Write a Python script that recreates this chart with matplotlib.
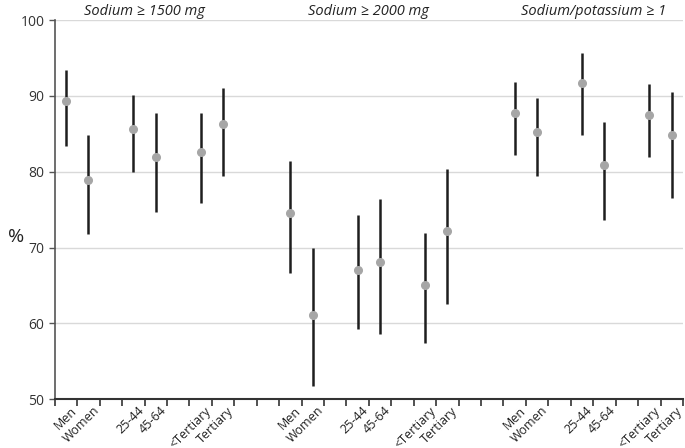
import matplotlib.pyplot as plt
import matplotlib.transforms as mtransforms
import numpy as np

plt.rcParams['font.family'] = ['Open Sans', 'DejaVu Sans']

# category slots (28 in total, some left empty as spacers)
slot_labels = ["Men", "Women", "", "25-44", "45-64", "", "<Tertiary", "Tertiary", "", "",
               "Men", "Women", "", "25-44", "45-64", "", "<Tertiary", "Tertiary", "", "",
               "Men", "Women", "", "25-44", "45-64", "", "<Tertiary", "Tertiary"]
group_titles = ["Sodium \u2265 1500 mg", "Sodium \u2265 2000 mg", "Sodium/potassium \u2265 1"]

# estimates (%) and 95% CI, in order Men, Women, 25-44, 45-64, <Tertiary, Tertiary
sodium_1500 = [89.3, 78.9, 85.7, 82.0, 82.6, 86.3]
sodium_1500_lo = [83.4, 71.8, 80.0, 74.7, 75.9, 79.5]
sodium_1500_hi = [93.4, 84.8, 90.1, 87.7, 87.8, 91.1]

sodium_2000 = [74.6, 61.1, 67.1, 68.1, 65.0, 72.2]
sodium_2000_lo = [66.6, 51.7, 59.2, 58.6, 57.4, 62.5]
sodium_2000_hi = [81.4, 69.9, 74.3, 76.4, 71.9, 80.3]

na_k = [87.8, 85.3, 91.7, 80.9, 87.5, 84.8]
na_k_lo = [82.2, 79.4, 84.9, 73.6, 82.0, 76.6]
na_k_hi = [91.9, 89.7, 95.7, 86.5, 91.6, 90.5]

filled = [i for i, s in enumerate(slot_labels) if s]
groups = [(sodium_1500, sodium_1500_lo, sodium_1500_hi),
          (sodium_2000, sodium_2000_lo, sodium_2000_hi),
          (na_k, na_k_lo, na_k_hi)]

fig = plt.figure(figsize=(6.85, 4.48), dpi=100)
ax = fig.add_axes([0.080, 0.109, 0.917, 0.846])

for g, (est, lo, hi) in enumerate(groups):
    xs = filled[g * 6:(g + 1) * 6]
    ax.vlines(xs, lo, hi, color="#1e1e1e", linewidth=1.8, zorder=2)
    ax.plot(xs, est, "o", color="#a6a6a6", markersize=5.5, zorder=3)
    ax.text(np.mean(xs), 1.022, group_titles[g], style="italic", fontsize=10.5,
            ha="center", va="center", color="#222222",
            transform=ax.get_xaxis_transform())

ax.set_xlim(-0.5, len(slot_labels) - 0.5)
ax.set_ylim(50, 100)
ax.set_yticks([50, 60, 70, 80, 90, 100])
ax.yaxis.grid(True, color="#d9d9d9", linewidth=1)
ax.set_axisbelow(True)

# category labels drawn by hand so they can sit a bit right of the slot centre
ax.set_xticks(np.arange(-0.5, len(slot_labels)))
ax.set_xticklabels([])
label_tf = ax.get_xaxis_transform() + mtransforms.ScaledTranslation(
    4 / 100, -5 / 100, fig.dpi_scale_trans)
for i in filled:
    ax.text(i, 0, slot_labels[i], transform=label_tf, rotation=45, ha="right",
            va="top", rotation_mode="anchor", fontsize=9, color="#222222")

ax.tick_params(axis="x", length=5, width=1.2, color="#333333")
ax.tick_params(axis="y", length=4, width=1, color="#555555", labelsize=10, labelcolor="#333333")

for side in ["top", "right"]:
    ax.spines[side].set_visible(False)
ax.spines["left"].set_color("#555555")
ax.spines["left"].set_linewidth(1.2)
ax.spines["bottom"].set_color("#333333")
ax.spines["bottom"].set_linewidth(1.5)

fig.text(0.012, 0.47, "%", fontsize=14, ha="left", va="center", color="#222222")

fig.savefig("out.png", dpi=100)
